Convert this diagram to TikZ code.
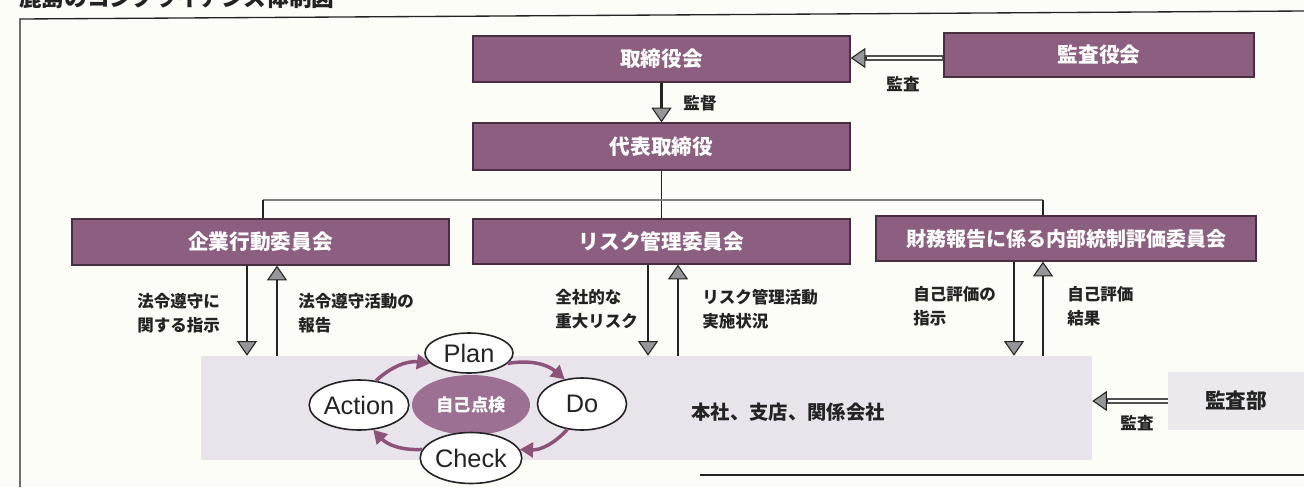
\documentclass[tikz,border=0pt]{standalone}
\usepackage{fontspec}
\setmainfont{Liberation Sans}
\newfontfamily\jp{Noto Sans CJK JP}
\usetikzlibrary{arrows.meta,shapes.geometric,calc}
\definecolor{bg}{RGB}{253,253,247}
\definecolor{mauve}{RGB}{140,94,128}
\definecolor{mauvedk}{RGB}{72,46,64}
\definecolor{lightfill}{RGB}{233,227,235}
\definecolor{lightb}{RGB}{236,233,238}
\definecolor{selfc}{RGB}{156,112,146}
\definecolor{arr}{RGB}{140,82,122}
\definecolor{headgray}{RGB}{150,150,154}
\definecolor{ink}{RGB}{35,35,35}
\begin{document}
\begin{tikzpicture}[x=0.75pt,y=-0.75pt,
  mbox/.style={draw=mauvedk, line width=1pt, fill=mauve, text=white, inner sep=0pt,
    font=\jp\bfseries\fontsize{15.5}{18}\selectfont},
  lbox/.style={draw=none, fill=lightfill, inner sep=0pt},
  lbl/.style={text=ink, inner sep=0pt, align=left,
    font=\jp\bfseries\fontsize{12.4}{18}\selectfont},
  pell/.style={ellipse, draw=ink, line width=1.2pt, fill=white, inner sep=0pt,
    text=ink, font=\fontsize{19}{21}\selectfont},
  sarrow/.style={draw=ink, line width=1.8pt,
    -{Triangle[length=11pt,width=15pt,fill=headgray,line width=0.8pt]}},
  dshaft/.style={draw=ink!80, line width=3.8pt},
  dinner/.style={draw=white, line width=1.6pt},
  dhead/.style={draw=ink, line width=0.8pt,
    -{Triangle[length=11pt,width=15pt,fill=headgray,line width=0.8pt]}},
  pdca/.style={draw=arr, line width=2.6pt,
    -{Triangle[length=10pt,width=11pt,fill=arr]}},
  tree/.style={draw=ink, line width=1.1pt},
  treeh/.style={draw=gray, line width=1.3pt},
  frame/.style={draw=ink, line width=1pt}
]
\useasboundingbox[fill=bg] (0,0) rectangle (1304,487);

% title (cut off at top, as in the reference)
\node[anchor=base west, inner sep=0pt, text=ink, font=\jp\bfseries\fontsize{17}{20}\selectfont]
  (title) at (19,6) {鹿島のコンプライアンス体制図};

% frame
\draw[frame] (20,487) -- (20,19) -- (1304,11);
\draw[frame] (700,475) -- (1304,475);

% top boxes
\node[mbox, minimum width=282.75pt, minimum height=34.5pt] (A) at (661.5,59) {取締役会};
\node[mbox, minimum width=232.5pt, minimum height=33pt] (B) at (1099,55) {監査役会};
\node[mbox, minimum width=282.75pt, minimum height=35.25pt] (C) at (661.5,146.5) {代表取締役};

% committees
\node[mbox, minimum width=282.75pt, minimum height=34.5pt] (D) at (260.5,242) {企業行動委員会};
\node[mbox, minimum width=282.75pt, minimum height=33.75pt] (E) at (661.5,241.5) {リスク管理委員会};
\node[mbox, minimum width=285pt, minimum height=33.75pt, font=\jp\bfseries\fontsize{15}{18}\selectfont] (F) at (1066,238.5) {財務報告に係る内部統制評価委員会};

% big box and audit dept
\node[lbox, minimum width=668.25pt, minimum height=78pt] (G) at (646.5,408) {};
\node[text=ink, inner sep=0pt, font=\jp\bfseries\fontsize{14.5}{18}\selectfont] (Gt) at (788,412) {本社、支店、関係会社};
\node[draw=none, fill=lightb, inner sep=0pt, minimum width=102pt, minimum height=43.5pt,
  text=ink, font=\jp\bfseries\fontsize{15.5}{18}\selectfont] (H) at (1236,401) {監査部};

% tree connectors
\coordinate (jl) at (263,200);
\coordinate (jr) at (1043,200);
\draw[tree] (C.south) -- (E.north);
\draw[treeh] (jl) -- (jr);
\draw[tree] (jl) -- (jl |- D.north);
\draw[tree] (jr) -- (jr |- F.north);

% 監督
\draw[sarrow] (A.south) -- (C.north);
\node[lbl] (kantoku) at (700,103) {監督};

% 監査 (top)
\coordinate (ka1) at ($(B.west)+(0,3)$);
\coordinate (ka2) at (ka1 -| A.east);
\draw[dshaft] (ka1) -- ($(ka2)+(14,0)$);
\draw[dinner] ($(ka1)+(-1,0)$) -- ($(ka2)+(14,0)$);
\draw[dhead] ($(ka2)+(16,0)$) -- (ka2);
\node[lbl] (kansa1) at (903,84) {監査};

% 監査 (bottom)
\coordinate (kb2) at (H.west -| G.east);
\draw[dshaft] (H.west) -- ($(kb2)+(14,0)$);
\draw[dinner] (H.west) -- ($(kb2)+(14,0)$);
\draw[dhead] ($(kb2)+(16,0)$) -- (kb2);
\node[lbl] (kansa2) at (1137,423) {監査};

% committee arrows
\coordinate (d1) at ($(D.south)+(-13.5,0)$);
\coordinate (d2) at ($(D.south)+(16.5,0)$);
\draw[sarrow] (d1) -- (d1 |- G.north);
\draw[sarrow] (d2 |- G.north) -- (d2);
\node[lbl, anchor=west] (l1) at (137,313) {法令遵守に\\関する指示};
\node[lbl, anchor=west] (l2) at (298,313) {法令遵守活動の\\報告};

\coordinate (e1) at ($(E.south)+(-13.5,0)$);
\coordinate (e2) at ($(E.south)+(16.5,0)$);
\draw[sarrow] (e1) -- (e1 |- G.north);
\draw[sarrow] (e2 |- G.north) -- (e2);
\node[lbl, anchor=west] (l3) at (555,309) {全社的な\\重大リスク};
\node[lbl, anchor=west] (l4) at (702,309) {リスク管理活動\\実施状況};

\coordinate (f1) at ($(F.south)+(-52,0)$);
\coordinate (f2) at ($(F.south)+(-23,0)$);
\draw[sarrow] (f1) -- (f1 |- G.north);
\draw[sarrow] (f2 |- G.north) -- (f2);
\node[lbl, anchor=west] (l5) at (913,306) {自己評価の\\指示};
\node[lbl, anchor=west] (l6) at (1067,306) {自己評価\\結果};

% PDCA
\node[ellipse, fill=selfc, draw=none, inner sep=0pt, minimum width=88.5pt, minimum height=45pt,
  text=white, font=\jp\bfseries\fontsize{13}{15}\selectfont] (S) at (471,405) {自己点検};
\node[pell, minimum width=66pt, minimum height=30pt] (P) at (469,353) {Plan};
\node[pell, minimum width=66.75pt, minimum height=39pt] (Do) at (582,404) {Do};
\node[pell, minimum width=66pt, minimum height=37.5pt] (Ac) at (359,405) {Action};
\node[pell, minimum width=66pt, minimum height=38.25pt] (Ch) at (471,458) {Check};

\draw[pdca] (Ac.55) to[bend left=25] (P.195);
\draw[pdca] (P.-15) to[bend left=25] (Do.125);
\draw[pdca] (Do.-120) to[bend left=25] (Ch.10);
\draw[pdca] (Ch.170) to[bend left=25] (Ac.-60);
\end{tikzpicture}
\end{document}
